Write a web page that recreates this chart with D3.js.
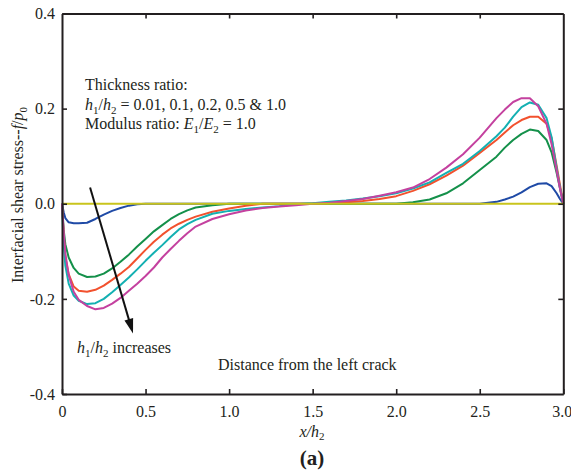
<!DOCTYPE html>
<html><head><meta charset="utf-8">
<script src="https://cdn.jsdelivr.net/npm/d3@7"></script>
<style>
body{margin:0;background:#fff}
svg{display:block}
svg text{font-family:"Liberation Serif","Times New Roman",Tinos,"DejaVu Serif",serif !important;fill:#231f20}
</style>
</head><body>
<svg id="chart" width="571" height="474" font-family="Liberation Serif, Times New Roman, serif"></svg>
<script>
// ---- data ----
const xValues = [0, 0.01, 0.02, 0.04, 0.07, 0.1, 0.15, 0.2, 0.25, 0.3,
  0.35, 0.4, 0.45, 0.5, 0.55, 0.6, 0.65, 0.7, 0.75, 0.8,
  0.9, 1.0, 1.1, 1.2, 1.3, 1.4, 1.5, 1.6, 1.7, 1.8,
  1.9, 2.0, 2.1, 2.2, 2.3, 2.4, 2.5, 2.6, 2.65, 2.7,
  2.75, 2.8, 2.85, 2.9, 2.93, 2.96, 2.98, 3.0];

const ratio001 = [0, -0.018, -0.03, -0.039, -0.041, -0.041, -0.04, -0.032, -0.023, -0.015,
  -0.009, -0.004, -0.001, 0, 0, 0, 0, 0, 0, 0,
  0, 0, 0, 0, 0, 0, 0, 0, 0, 0,
  0, 0, 0, 0, 0, 0, 0, 0.004, 0.009, 0.015,
  0.024, 0.035, 0.042, 0.043, 0.037, 0.022, 0.01, 0];

const ratio01 = [0, -0.055, -0.085, -0.113, -0.135, -0.147, -0.154, -0.153, -0.147, -0.136,
  -0.122, -0.107, -0.09, -0.074, -0.058, -0.045, -0.032, -0.022, -0.014, -0.008,
  -0.003, 0, 0, 0, 0, 0, 0, 0, 0, 0,
  0, 0, 0.003, 0.009, 0.022, 0.043, 0.071, 0.099, 0.118, 0.134,
  0.147, 0.156, 0.153, 0.134, 0.108, 0.065, 0.033, 0];

const ratio02 = [0, -0.065, -0.113, -0.148, -0.174, -0.183, -0.185, -0.181, -0.172, -0.16,
  -0.147, -0.133, -0.115, -0.097, -0.08, -0.065, -0.052, -0.042, -0.034, -0.027,
  -0.017, -0.01, -0.004, 0, 0, 0, 0, 0.001, 0.003, 0.006,
  0.01, 0.016, 0.027, 0.041, 0.059, 0.08, 0.107, 0.134, 0.15, 0.165,
  0.176, 0.183, 0.183, 0.168, 0.138, 0.08, 0.04, 0];

const ratio05 = [0, -0.085, -0.13, -0.168, -0.193, -0.204, -0.211, -0.209, -0.2, -0.186,
  -0.171, -0.155, -0.138, -0.12, -0.103, -0.087, -0.07, -0.054, -0.043, -0.034,
  -0.021, -0.015, -0.011, -0.008, -0.005, -0.001, 0.001, 0.004, 0.007, 0.011,
  0.016, 0.022, 0.032, 0.045, 0.065, 0.084, 0.111, 0.142, 0.16, 0.183,
  0.203, 0.213, 0.208, 0.18, 0.14, 0.075, 0.034, 0];

const ratio10 = [0, -0.06, -0.105, -0.15, -0.185, -0.202, -0.215, -0.222, -0.219, -0.21,
  -0.198, -0.183, -0.168, -0.152, -0.134, -0.113, -0.095, -0.078, -0.062, -0.048,
  -0.032, -0.022, -0.014, -0.009, -0.006, -0.003, 0, 0.002, 0.006, 0.01,
  0.017, 0.024, 0.034, 0.052, 0.076, 0.104, 0.139, 0.18, 0.198, 0.214,
  0.222, 0.222, 0.205, 0.168, 0.125, 0.07, 0.032, 0];

const zeroLineX = [0, 3.0];
const zeroLineY = [0, 0];

const seriesNames = ["0.01", "0.1", "0.2", "0.5", "1.0"];
const seriesColors = ["#1f4aa6", "#14904a", "#f2512e", "#14b0b2", "#c4419f"];
const zeroColor = "#c9c41c";

const xTicks = [0, 0.5, 1.0, 1.5, 2.0, 2.5, 3.0];
const xTickLabels = ["0", "0.5", "1.0", "1.5", "2.0", "2.5", "3.0"];
const yTicks = [-0.4, -0.2, 0, 0.2, 0.4];
const yTickLabels = ["-0.4", "-0.2", "0.0", "0.2", "0.4"];

// arrow annotation, in data units
const arrowFrom = [0.168, 0.034];
const arrowTo = [0.425, -0.273];

// ---- layout ----
const FONT = '"Liberation Serif","Times New Roman",Tinos,"DejaVu Serif",serif';
const svg = d3.select("#chart");
const L = 62, R = 563.3, T = 13.5, B = 394;
const x = d3.scaleLinear().domain([0, 3]).range([L, R]);
const y = d3.scaleLinear().domain([-0.4, 0.4]).range([B, T]);
const ink = "#231f20";

function styleAxis(g) {
  g.attr("font-family", FONT);
  g.select(".domain").attr("stroke", ink).attr("stroke-width", 2);
  g.selectAll(".tick line").attr("stroke", ink).attr("stroke-width", 1.6);
  g.selectAll(".tick text").attr("font-size", 16).attr("fill", ink).attr("font-family", FONT);
}

// curves
const series = [ratio001, ratio01, ratio02, ratio05, ratio10];
const line = d3.line().x(d => x(d[0])).y(d => y(d[1]));
const plot = svg.append("g");
series.forEach((vals, i) => {
  plot.append("path")
    .datum(xValues.map((xv, j) => [xv, vals[j]]))
    .attr("fill", "none")
    .attr("stroke", seriesColors[i])
    .attr("stroke-width", 2)
    .attr("stroke-linejoin", "round")
    .attr("d", line);
});
plot.append("path")
  .datum(zeroLineX.map((xv, j) => [xv, zeroLineY[j]]))
  .attr("fill", "none").attr("stroke", zeroColor).attr("stroke-width", 2.2)
  .attr("d", line);

// axes (inward ticks, full frame)
svg.append("g").attr("transform", `translate(0,${B})`)
  .call(d3.axisBottom(x).tickValues(xTicks).tickFormat((d, i) => xTickLabels[i])
    .tickSize(-5).tickSizeOuter(0).tickPadding(12))
  .call(styleAxis)
  .call(g => g.selectAll(".tick text").filter(d => d === 3).attr("dx", -1.5));
svg.append("g").attr("transform", `translate(0,${T})`)
  .call(d3.axisTop(x).tickValues(xTicks.slice(1, -1)).tickFormat("")
    .tickSize(-5).tickSizeOuter(0))
  .call(styleAxis);
svg.append("g").attr("transform", `translate(${L},0)`)
  .call(d3.axisLeft(y).tickValues(yTicks).tickFormat((d, i) => yTickLabels[i])
    .tickSize(-5).tickSizeOuter(0).tickPadding(7))
  .call(styleAxis);
svg.append("g").attr("transform", `translate(${R},0)`)
  .call(d3.axisRight(y).tickValues(yTicks.slice(1, -1)).tickFormat("")
    .tickSize(-5).tickSizeOuter(0))
  .call(styleAxis);

function txt(sel) { return sel.append("text").attr("font-family", FONT).attr("fill", ink); }

// y title
const yt = txt(svg)
  .attr("transform", "translate(23,195) rotate(-90)")
  .attr("text-anchor", "middle").attr("font-size", 16);
yt.append("tspan").text("Interfacial shear stress--");
yt.append("tspan").attr("font-style", "italic").text("f");
yt.append("tspan").text("/");
yt.append("tspan").attr("font-style", "italic").text("p");
yt.append("tspan").attr("font-size", 11).attr("dy", 4).text("0");

// x title
const xt = txt(svg).attr("x", 312).attr("y", 437)
  .attr("text-anchor", "middle").attr("font-size", 16).attr("font-style", "italic");
xt.append("tspan").text("x/h");
xt.append("tspan").attr("font-size", 11).attr("dy", 3).attr("font-style", "normal").text("2");

txt(svg).attr("x", 312).attr("y", 465).attr("text-anchor", "middle")
  .attr("font-size", 21).attr("font-weight", "bold").text("(a)");

// annotation block
function hRatio(t) {
  t.append("tspan").attr("font-style", "italic").text("h");
  t.append("tspan").attr("font-size", 11).attr("dy", 4).text("1");
  t.append("tspan").attr("dy", -4).text("/");
  t.append("tspan").attr("font-style", "italic").text("h");
  t.append("tspan").attr("font-size", 11).attr("dy", 4).text("2");
}
txt(svg).attr("x", 85).attr("y", 90).attr("font-size", 16).text("Thickness ratio:");
const l2 = txt(svg).attr("x", 85).attr("y", 110).attr("font-size", 16);
hRatio(l2);
l2.append("tspan").attr("dy", -4).text(" = " + seriesNames.join(", ").replace(/, 1\.0$/, " & 1.0"));
const l3 = txt(svg).attr("x", 85).attr("y", 129).attr("font-size", 16);
l3.append("tspan").text("Modulus ratio: ");
l3.append("tspan").attr("font-style", "italic").text("E");
l3.append("tspan").attr("font-size", 11).attr("dy", 4).text("1");
l3.append("tspan").attr("dy", -4).text("/");
l3.append("tspan").attr("font-style", "italic").text("E");
l3.append("tspan").attr("font-size", 11).attr("dy", 4).text("2");
l3.append("tspan").attr("dy", -4).text(" = 1.0");

const inc = txt(svg).attr("x", 77).attr("y", 353).attr("font-size", 16);
hRatio(inc);
inc.append("tspan").attr("dy", -4).text(" increases");

txt(svg).attr("x", 218).attr("y", 370).attr("font-size", 16)
  .text("Distance from the left crack");

// arrow
const ax0 = x(arrowFrom[0]), ay0 = y(arrowFrom[1]);
const ax1 = x(arrowTo[0]), ay1 = y(arrowTo[1]);
const dx = ax1 - ax0, dy = ay1 - ay0, len = Math.hypot(dx, dy);
const ux = dx / len, uy = dy / len;
const hl = 15, hw = 4.5;
const bx = ax1 - ux * hl, by = ay1 - uy * hl;
svg.append("line").attr("x1", ax0).attr("y1", ay0).attr("x2", bx + ux * 2).attr("y2", by + uy * 2)
  .attr("stroke", "#111").attr("stroke-width", 2);
svg.append("path")
  .attr("d", `M${ax1},${ay1}L${bx - uy * hw},${by + ux * hw}L${bx + uy * hw},${by - ux * hw}Z`)
  .attr("fill", "#111");
</script>
</body></html>
